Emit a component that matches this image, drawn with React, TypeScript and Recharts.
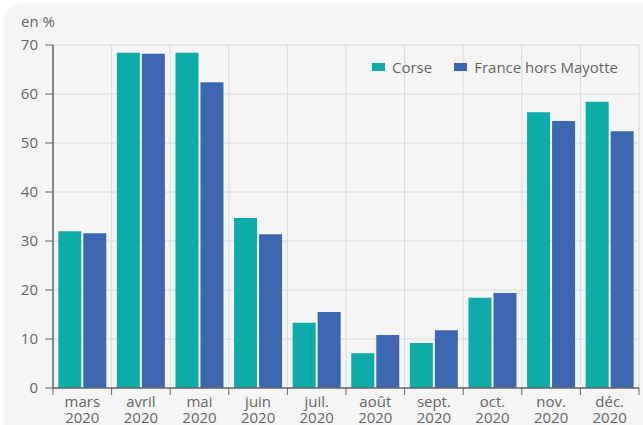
import React from "react";
import { BarChart, Bar, XAxis, YAxis, CartesianGrid } from "recharts";

const months = ["mars", "avril", "mai", "juin", "juil.", "août", "sept.", "oct.", "nov.", "déc."];
const year = "2020";
const corse = [32.0, 68.4, 68.4, 34.7, 13.3, 7.1, 9.2, 18.4, 56.3, 58.4];
const france = [31.6, 68.2, 62.4, 31.4, 15.5, 10.8, 11.8, 19.4, 54.5, 52.4];
const yTicks = [0, 10, 20, 30, 40, 50, 60, 70];
const seriesNames = ["Corse", "France hors Mayotte"];
const colors = ["#0dabaa", "#3d67b0"];

const data = months.map((m, i) => ({ month: m, corse: corse[i], france: france[i] }));

const FONT = "'Open Sans', sans-serif";
const TEXT = "#666";

const XTick = (props: any) => {
  const { x, y, payload, index } = props;
  const half = payload && payload.offset ? payload.offset : 29.3;
  const axisY = y - 8;
  return (
    <g>
      <line x1={x - half} x2={x - half} y1={axisY} y2={axisY + 7} stroke="#666" strokeWidth={1} />
      {index === months.length - 1 && (
        <line x1={x + half} x2={x + half} y1={axisY} y2={axisY + 7} stroke="#666" strokeWidth={1} />
      )}
      <text x={x} y={axisY + 19} textAnchor="middle" fill={TEXT} fontSize={15} fontFamily={FONT}>
        <tspan x={x}>{payload.value}</tspan>
        <tspan x={x} dy={16}>{year}</tspan>
      </text>
    </g>
  );
};

export default function App() {
  const n = months.length;
  return (
    <div style={{ position: "fixed", left: 0, top: 0, width: 643, height: 425, background: "#fff", overflow: "hidden" }}>
      <div
        style={{
          position: "absolute",
          left: 3,
          top: 3,
          width: 660,
          height: 440,
          background: "#f5f5f5",
          borderTopLeftRadius: 20,
        }}
      />
      <div style={{ position: "absolute", left: 21, top: 11, fontFamily: FONT, fontSize: 15, lineHeight: "20px", color: TEXT }}>
        en %
      </div>
      <div style={{ position: "absolute", left: 0, top: 0 }}>
        <BarChart
          width={643}
          height={425}
          data={data}
          margin={{ top: 45, right: 4, bottom: 0, left: 0 }}
          barCategoryGap="9%"
          barGap={2}
        >
          <CartesianGrid
            stroke="#dadada"
            strokeWidth={1}
            verticalCoordinatesGenerator={({ offset }: any) =>
              Array.from({ length: n + 1 }, (_, i) => offset.left + (i * offset.width) / n)
            }
          />
          <XAxis
            dataKey="month"
            height={37}
            tickLine={false}
            axisLine={{ stroke: "#666", strokeWidth: 1.5 }}
            tick={<XTick />}
            interval={0}
          />
          <YAxis
            width={53}
            domain={[0, 70]}
            ticks={yTicks}
            allowDataOverflow
            axisLine={{ stroke: "#666", strokeWidth: 1.5 }}
            tickLine={{ stroke: "#666" }}
            tickSize={8}
            tickMargin={7}
            tick={{ fill: TEXT, fontSize: 15, fontFamily: FONT }}
          />
          <Bar dataKey="corse" name={seriesNames[0]} fill={colors[0]} isAnimationActive={false} />
          <Bar dataKey="france" name={seriesNames[1]} fill={colors[1]} isAnimationActive={false} />
        </BarChart>
      </div>
      <div
        style={{
          position: "absolute",
          left: 372,
          top: 57,
          display: "flex",
          alignItems: "center",
          fontFamily: FONT,
          fontSize: 15,
          lineHeight: "20px",
          color: TEXT,
        }}
      >
        {seriesNames.map((s, i) => (
          <div key={s} style={{ display: "flex", alignItems: "center", marginRight: i === 0 ? 22 : 0 }}>
            <span style={{ display: "inline-block", width: 13, height: 8, background: colors[i], marginRight: 7 }} />
            <span>{s}</span>
          </div>
        ))}
      </div>
    </div>
  );
}
